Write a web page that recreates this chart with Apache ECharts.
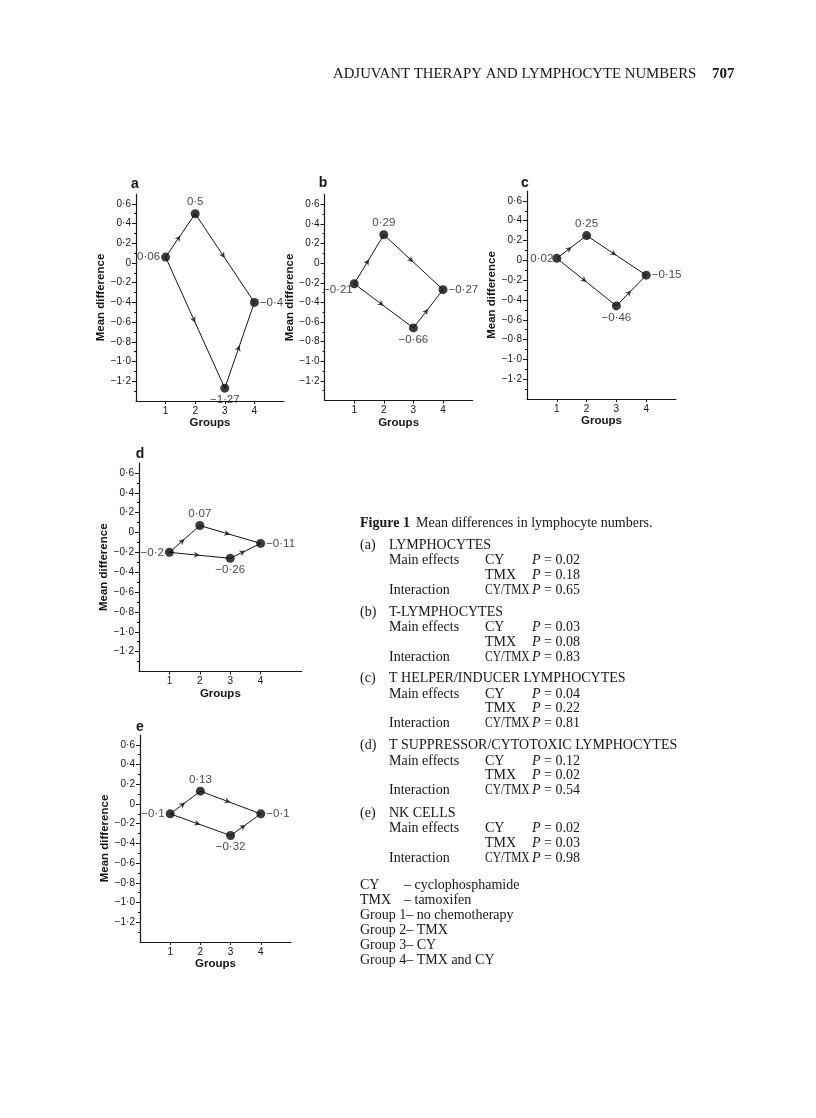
<!DOCTYPE html>
<html><head><meta charset="utf-8">
<script src="https://cdn.jsdelivr.net/npm/echarts@6/dist/echarts.min.js"></script>
<style>html,body{margin:0;padding:0;background:#fff}#c{width:816px;height:1118px}</style>
</head><body><div id="c"></div>
<script>
// ---------- data ----------
const groups = [1, 2, 3, 4];
const lymphocytes = [0.06, 0.5, -1.27, -0.4];
const tLymphocytes = [-0.21, 0.29, -0.66, -0.27];
const tHelperInducer = [0.02, 0.25, -0.46, -0.15];
const tSuppressorCytotoxic = [-0.2, 0.07, -0.26, -0.11];
const nkCells = [-0.1, 0.13, -0.32, -0.1];
const yTickValues = [-1.2, -1.0, -0.8, -0.6, -0.4, -0.2, 0, 0.2, 0.4, 0.6];
const yMinorTickValues = [-1.3, -1.1, -0.9, -0.7, -0.5, -0.3, -0.1, 0.1, 0.3, 0.5];
const xTickValues = [1, 2, 3, 4];
const panelLetters = ['a', 'b', 'c', 'd', 'e'];
const pathUpper = [0, 1, 3];   // group 1 -> group 2 -> group 4
const pathLower = [0, 2, 3];   // group 1 -> group 3 -> group 4
const segments = [[0, 1], [1, 3], [0, 2], [2, 3]];
const headerText = 'ADJUVANT THERAPY AND LYMPHOCYTE NUMBERS';
const pageNumber = '707';
const figureLabel = 'Figure 1';
const figureTitle = 'Mean differences in lymphocyte numbers.';
const panelTags = ['(a)', '(b)', '(c)', '(d)', '(e)'];
const cellTypes = ['LYMPHOCYTES', 'T-LYMPHOCYTES', 'T HELPER/INDUCER LYMPHOCYTES', 'T SUPPRESSOR/CYTOTOXIC LYMPHOCYTES', 'NK CELLS'];
const pCY = ['0.02', '0.03', '0.04', '0.12', '0.02'];
const pTMX = ['0.18', '0.08', '0.22', '0.02', '0.03'];
const pInteraction = ['0.65', '0.83', '0.81', '0.54', '0.98'];
const abbreviations = [['CY', '– cyclophosphamide'], ['TMX', '– tamoxifen']];
const groupLegend = ['Group 1– no chemotherapy', 'Group 2– TMX', 'Group 3– CY', 'Group 4– TMX and CY'];
const panelValues = [lymphocytes, tLymphocytes, tHelperInducer, tSuppressorCytotoxic, nkCells];

// ---------- layout / style ----------
const layout = [
  { grid: { left: 136, top: 194, width: 148, height: 207 }, xMax: 5, letter: [135, 184] },
  { grid: { left: 324.6, top: 194.5, width: 148, height: 206 }, xMax: 5, letter: [323, 183] },
  { grid: { left: 527, top: 191, width: 149, height: 208 }, xMax: 5, letter: [525, 183] },
  { grid: { left: 139, top: 463, width: 162.7, height: 208.5 }, xMax: 5.35, letter: [140, 454] },
  { grid: { left: 140, top: 735, width: 151, height: 207 }, xMax: 5, letter: [140, 727] }
];
const pointLabelPos = ['left', 'top', 'bottom', 'right'];
const pointLabelOffset = [
  [[0, 0], [0, 0], [0, 0], [0, 0]],
  [[4, 6], [0, 0], [0, 0], [0, 0]],
  [[2, 0], [0, 0], [0, 0], [0, 0]],
  [[0, 0], [0, 0], [0, 0], [0, 0]],
  [[0, 0], [0, 0], [0, 0], [0, 0]]
];
const SANS = '"Liberation Sans", Arial, Helvetica, sans-serif';
const SERIF = '"Liberation Serif", "Times New Roman", serif';
const INK = '#161616';

function fmtNum(v) {
  const s = String(v).replace('.', '·');
  return s.charAt(0) === '-' ? '−' + s.slice(1) : s;
}
function fmtTick(v) {
  const r = Math.round(v * 10) / 10;
  if (r === 0) return '0';
  return fmtNum(r.toFixed(1));
}

const grids = [], xAxes = [], yAxes = [], series = [];
panelValues.forEach((vals, i) => {
  const L = layout[i];
  grids.push(Object.assign({}, L.grid));
  xAxes.push({
    gridIndex: i, type: 'value', min: 0, max: L.xMax, interval: 1,
    axisLine: { onZero: false, lineStyle: { color: INK, width: 1.2 } },
    axisTick: { customValues: xTickValues, length: 3, lineStyle: { color: INK } },
    axisLabel: { customValues: xTickValues, fontSize: 10, margin: 5, color: INK, fontFamily: SANS },
    splitLine: { show: false },
    name: 'Groups', nameLocation: 'middle', nameGap: 11,
    nameTextStyle: { fontSize: 11.5, fontWeight: 'bold', color: INK, fontFamily: SANS }
  });
  yAxes.push({
    gridIndex: i, type: 'value', position: 'left', min: -1.4, max: 0.7, interval: 0.1,
    axisLine: { onZero: false, lineStyle: { color: INK, width: 1.2 } },
    axisTick: { customValues: yTickValues, length: 4, lineStyle: { color: INK } },
    axisLabel: { customValues: yTickValues, fontSize: 10, margin: 5, color: INK, fontFamily: SANS, formatter: fmtTick },
    splitLine: { show: false },
    name: 'Mean difference', nameLocation: 'middle', nameGap: 20,
    nameTextStyle: { fontSize: 11.5, fontWeight: 'bold', color: INK, fontFamily: SANS }
  });
  yAxes.push({
    gridIndex: i, type: 'value', position: 'left', offset: 0, min: -1.4, max: 0.7, interval: 0.1,
    axisLine: { show: false, onZero: false },
    axisTick: { customValues: yMinorTickValues, length: 2, lineStyle: { color: INK } },
    axisLabel: { show: false }, splitLine: { show: false }
  });
  const yIdx = 2 * i;
  [pathUpper, pathLower].forEach(path => {
    series.push({
      type: 'line', xAxisIndex: i, yAxisIndex: yIdx, silent: true, symbol: 'none', z: 2,
      lineStyle: { color: INK, width: 1 },
      data: path.map(k => [groups[k], vals[k]])
    });
  });
  series.push({
    type: 'scatter', xAxisIndex: i, yAxisIndex: yIdx, silent: true, z: 4,
    symbol: 'circle', symbolSize: 9, itemStyle: { color: '#0a0a0a' },
    data: groups.map((g, k) => ({
      value: [g, vals[k]],
      label: {
        show: true, position: pointLabelPos[k], distance: 1, offset: pointLabelOffset[i][k],
        formatter: () => fmtNum(vals[k]), fontSize: 11.5, color: INK, fontFamily: SANS
      }
    }))
  });
  series.push({
    id: 'arrows' + i, type: 'scatter', xAxisIndex: i, yAxisIndex: yIdx, silent: true, z: 3,
    symbol: 'arrow', symbolSize: [4.5, 6], itemStyle: { color: INK },
    data: segments.map(([a, b]) => [(groups[a] + groups[b]) / 2, (vals[a] + vals[b]) / 2])
  });
});

// ---------- text (graphic) ----------
const graphic = [];
function txt(x, y, text, opts, sx) {
  graphic.push({
    type: 'text', silent: true, x: x, y: y, scaleX: sx || 1,
    style: Object.assign({ x: 0, y: 0, text: text, fill: INK, fontFamily: SERIF, fontSize: 14, verticalAlign: 'middle', align: 'left' }, opts || {})
  });
}
panelLetters.forEach((l, i) => {
  txt(layout[i].letter[0], layout[i].letter[1], l, { fontFamily: SANS, fontWeight: 'bold', fontSize: 14, align: 'center' });
});
txt(333, 74, headerText, { fontSize: 14.8 });
txt(712, 74, pageNumber, { fontSize: 15, fontWeight: 'bold' });
txt(360, 523, figureLabel, { fontWeight: 'bold' });
txt(416, 523, figureTitle);
const rich = { i: { fontStyle: 'italic', fontFamily: SERIF, fontSize: 14, fill: INK }, n: { fontFamily: SERIF, fontSize: 14, fill: INK } };
function pText(p) { return '{i|P}{n| = ' + p + '}'; }
const blockTop = [545, 612, 678.5, 745.5, 813];
cellTypes.forEach((name, i) => {
  const y = blockTop[i];
  txt(360, y, panelTags[i]);
  txt(389, y, name);
  txt(389, y + 15.5, 'Main effects');
  txt(485, y + 15.5, 'CY');
  txt(532, y + 15.5, pText(pCY[i]), { rich: rich });
  txt(485, y + 30, 'TMX');
  txt(532, y + 30, pText(pTMX[i]), { rich: rich });
  txt(389, y + 45, 'Interaction');
  txt(485, y + 45, 'CY/TMX', {}, 0.82);
  txt(532, y + 45, pText(pInteraction[i]), { rich: rich });
});
abbreviations.forEach(([a, b], k) => {
  txt(360, 885.5 + 15 * k, a);
  txt(404, 885.5 + 15 * k, b);
});
groupLegend.forEach((g, k) => txt(360, 915.5 + 15 * k, g));

const chart = echarts.init(document.getElementById('c'), null, { renderer: 'canvas' });
chart.setOption({
  animation: false, backgroundColor: '#ffffff',
  grid: grids, xAxis: xAxes, yAxis: yAxes, series: series, graphic: graphic
});

// orient arrowheads along their segments (direction computed through the axes' scales)
const upd = [];
panelValues.forEach((vals, i) => {
  const data = segments.map(([a, b]) => {
    const p0 = chart.convertToPixel({ xAxisIndex: i, yAxisIndex: 2 * i }, [groups[a], vals[a]]);
    const p1 = chart.convertToPixel({ xAxisIndex: i, yAxisIndex: 2 * i }, [groups[b], vals[b]]);
    const ang = Math.atan2(-(p1[1] - p0[1]), p1[0] - p0[0]) * 180 / Math.PI;
    return { value: [(groups[a] + groups[b]) / 2, (vals[a] + vals[b]) / 2], symbolRotate: ang - 90 };
  });
  upd.push({ id: 'arrows' + i, data: data });
});
chart.setOption({ series: upd });
</script>
</body></html>
